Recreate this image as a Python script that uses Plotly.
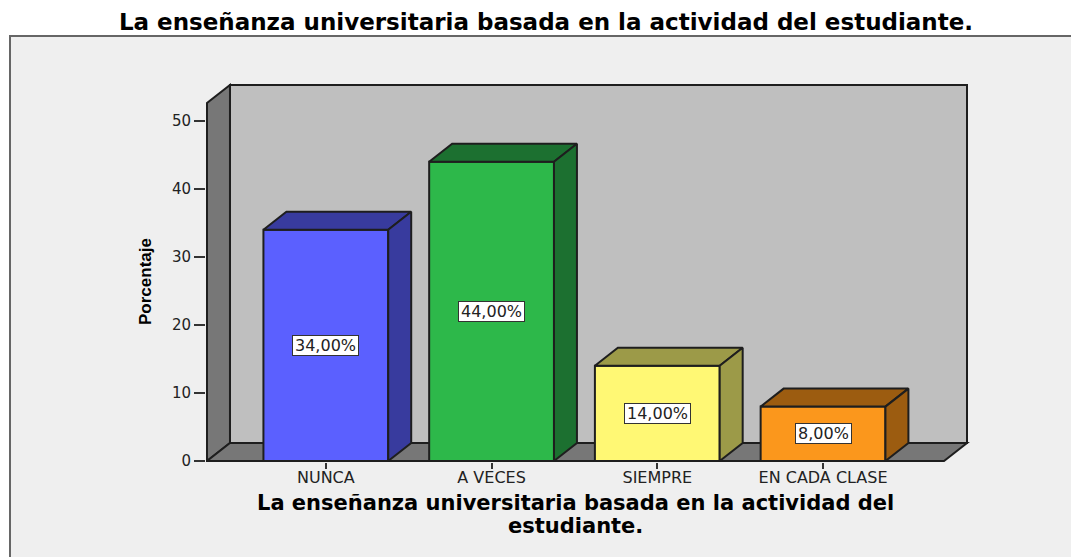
import numpy as np
import plotly.graph_objects as go

categories = ["NUNCA", "A VECES", "SIEMPRE", "EN CADA CLASE"]
percent = [34, 44, 14, 8]
front_colors = ["#5B60FF", "#2DB84A", "#FFF874", "#FB971C"]
side_colors = ["#383B9E", "#1C7030", "#9C9A48", "#9C5C10"]
y_ticks = [0, 10, 20, 30, 40, 50]

title_text = "La enseñanza universitaria basada en la actividad del estudiante."
x_title_lines = ["La enseñanza universitaria basada en la actividad del", "estudiante."]
y_title = "Porcentaje"

LINE = "#1E1E1E"
WIDTH, HEIGHT = 1071, 557
# plot area in pixels, a little bigger than the walls so their outlines are not cut
LEFT, RIGHT, TOP, BOTTOM = 206, 970, 83, 462

# walls in axis units
wall_x0, wall_x1 = -0.717, 3.73
wall_top = 52.65
bar_w = 0.753
# fake 3d depth in axis units
dx = 0.1386
dy = 2.647

x_range = [wall_x0 - 1 / 165.9, wall_x1 + dx + 3 / 165.9]
y_range = [-1 / 6.8, wall_top + dy + 2 / 6.8]

pos = np.arange(len(categories))


def px_x(p):
    return (p - LEFT) / (RIGHT - LEFT)


def px_y(p):
    return (BOTTOM - p) / (BOTTOM - TOP)


def poly(points):
    return "M " + " L ".join(f"{a},{b}" for a, b in points) + " Z"


fig = go.Figure()

# bar fronts
fig.add_trace(go.Bar(x=pos, y=percent, width=bar_w,
                     marker=dict(color=front_colors, line=dict(color=LINE, width=2))))

# bar tops and sides
for p, v, c in zip(pos, percent, side_colors):
    x0, x1 = p - bar_w / 2, p + bar_w / 2
    fig.add_trace(go.Scatter(x=[x0, x0 + dx, x1 + dx, x1, x0], y=[v, v + dy, v + dy, v, v],
                             mode="lines", fill="toself", fillcolor=c,
                             line=dict(color=LINE, width=2)))
    fig.add_trace(go.Scatter(x=[x1, x1 + dx, x1 + dx, x1, x1], y=[v, v + dy, dy, 0, v],
                             mode="lines", fill="toself", fillcolor=c,
                             line=dict(color=LINE, width=2)))

# grey page panel behind the chart, its edge runs off the right and bottom
shapes = [
    dict(type="rect", xref="paper", yref="paper", layer="below",
         x0=px_x(10), x1=px_x(WIDTH + 10), y0=px_y(HEIGHT + 10), y1=px_y(36),
         fillcolor="#EFEFEF", line=dict(color="#666666", width=2)),
    # back wall
    dict(type="rect", xref="x", yref="y", layer="below",
         x0=wall_x0 + dx, x1=wall_x1 + dx, y0=dy, y1=wall_top + dy,
         fillcolor="#BFBFBF", line=dict(color=LINE, width=2)),
    # left wall
    dict(type="path", xref="x", yref="y", layer="below",
         path=poly([(wall_x0, 0), (wall_x0, wall_top), (wall_x0 + dx, wall_top + dy), (wall_x0 + dx, dy)]),
         fillcolor="#777777", line=dict(color=LINE, width=2)),
    # floor
    dict(type="path", xref="x", yref="y", layer="below",
         path=poly([(wall_x0, 0), (wall_x1, 0), (wall_x1 + dx, dy), (wall_x0 + dx, dy)]),
         fillcolor="#777777", line=dict(color=LINE, width=2)),
]

# value labels
annotations = []
for p, v in zip(pos, percent):
    annotations.append(dict(x=p, y=v / 2, text=f"{v:.2f}".replace(".", ",") + "%",
                            showarrow=False, bgcolor="white", bordercolor="#333333",
                            borderwidth=1, borderpad=2, height=15,
                            font=dict(family="DejaVu Sans", size=16, color="#222222")))

# axis titles as annotations, they are not centred on the plot area
for line, py in zip(x_title_lines, [503, 526]):
    annotations.append(dict(xref="paper", yref="paper", x=px_x(575), y=px_y(py), text=line,
                            showarrow=False, xanchor="center", yanchor="middle",
                            font=dict(family="DejaVu Sans", size=21, color="black", weight="bold")))
annotations.append(dict(xref="paper", yref="paper", x=px_x(145), y=px_y(282), text=y_title,
                        showarrow=False, textangle=-90, xanchor="center", yanchor="middle",
                        font=dict(family="Liberation Sans", size=17, color="black", weight="bold")))

fig.update_layout(
    width=WIDTH, height=HEIGHT,
    margin=dict(l=LEFT, r=WIDTH - RIGHT, t=TOP, b=HEIGHT - BOTTOM),
    paper_bgcolor="white", plot_bgcolor="rgba(0,0,0,0)",
    showlegend=False, shapes=shapes, annotations=annotations,
    title=dict(text=title_text, x=546 / WIDTH, xanchor="center", y=1 - 22 / HEIGHT, yanchor="middle",
               font=dict(family="DejaVu Sans", size=23, color="black", weight="bold")),
)
fig.update_xaxes(range=x_range, tickvals=pos, ticktext=categories, showgrid=False, zeroline=False,
                 showline=False, ticks="outside", ticklen=6, tickwidth=2, tickcolor="#333333",
                 ticklabelstandoff=-5,
                 tickfont=dict(family="DejaVu Sans", size=16, color="#222222"))
fig.update_yaxes(range=y_range, tickvals=y_ticks, showgrid=False, zeroline=False, showline=False,
                 ticks="outside", ticklen=11, tickwidth=2, tickcolor="#333333",
                 tickfont=dict(family="DejaVu Sans", size=15, color="#222222"))

# page has a default body margin that would push the whole figure 8px in
fig.write_html("out.html", config={"displayModeBar": False},
               post_script="document.body.style.margin='0';")
